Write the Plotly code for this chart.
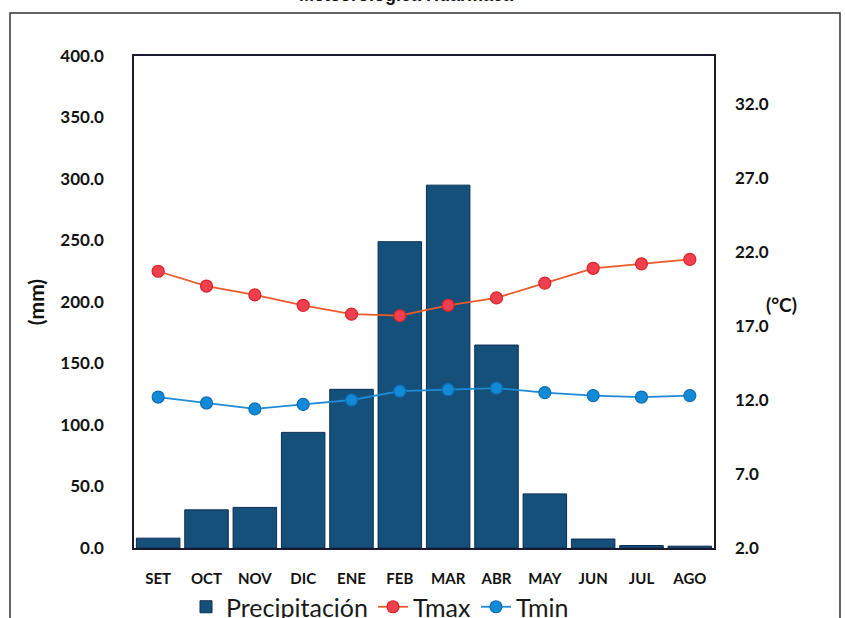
import plotly.graph_objects as go

months = ["SET", "OCT", "NOV", "DIC", "ENE", "FEB", "MAR", "ABR", "MAY", "JUN", "JUL", "AGO"]
precip = [8.0, 31.0, 33.0, 94.0, 129.0, 249.0, 295.0, 165.0, 44.0, 7.3, 2.0, 1.5]
tmax = [20.7, 19.7, 19.1, 18.4, 17.8, 17.7, 18.4, 18.9, 19.9, 20.9, 21.2, 21.5]
tmin = [12.2, 11.8, 11.4, 11.7, 12.0, 12.6, 12.7, 12.8, 12.5, 12.3, 12.2, 12.3]
left_ticks = [0, 50, 100, 150, 200, 250, 300, 350, 400]
right_ticks = [2, 7, 12, 17, 22, 27, 32]

W, H = 845, 618
# plot-area edges in window pixels
L, R, T, B = 134, 714, 56, 548

font_fam = "Lato, 'Open Sans', sans-serif"

fig = go.Figure()
fig.add_trace(go.Bar(
    x=months, y=precip, name="Precipitación",
    marker=dict(color="#15507a", line=dict(color="#0c2d52", width=1)),
    yaxis="y",
))
fig.add_trace(go.Scatter(
    x=months, y=tmax, name="Tmax", mode="lines+markers",
    line=dict(color="#ee5a2a", width=1.8),
    marker=dict(color="#f0404f", size=12, line=dict(color="#d8242a", width=1.2)),
    yaxis="y2",
))
fig.add_trace(go.Scatter(
    x=months, y=tmin, name="Tmin", mode="lines+markers",
    line=dict(color="#1f8ad6", width=1.8),
    marker=dict(color="#138ad8", size=12, line=dict(color="#0e6fb8", width=1.2)),
    yaxis="y2",
))

def px_x(p):
    return (p - L) / (R - L)

def px_y(p):
    return (B - p) / (B - T)

fig.update_layout(
    width=W, height=H,
    margin=dict(l=L, r=W - R, t=T, b=H - B, autoexpand=False),
    paper_bgcolor="white", plot_bgcolor="white",
    bargap=0.1,
    showlegend=True,
    legend=dict(orientation="h", xref="container", yref="container",
                x=380 / W, xanchor="center", y=1 - 607 / H, yanchor="middle",
                font=dict(family=font_fam, size=25, color="#1a1a1a"),
                itemwidth=30, bgcolor="rgba(0,0,0,0)"),
    xaxis=dict(
        range=[-0.5, len(months) - 0.5],
        showgrid=False, showline=True, linecolor="#1a1a2e", linewidth=1.5, mirror=True,
        ticks="", tickfont=dict(family=font_fam, size=15, color="#111", weight="bold"),
        ticklabelstandoff=16,
    ),
    yaxis=dict(
        range=[0, 400], tickvals=left_ticks, tickformat=".1f",
        showgrid=False, showline=True, linecolor="#1a1a2e", linewidth=1.5, mirror=True,
        ticks="", tickfont=dict(family=font_fam, size=17, color="#111", weight="bold"),
        ticklabelstandoff=25, zeroline=False,
        title=dict(text="<b>(mm)</b>", font=dict(family=font_fam, size=21, color="#111"), standoff=10),
    ),
    yaxis2=dict(
        range=[2, 2 + (B - T) / 14.8], tickvals=right_ticks, tickformat=".1f",
        overlaying="y", side="right", showgrid=False, showline=False,
        ticks="", tickfont=dict(family=font_fam, size=17, color="#111", weight="bold"),
        ticklabelstandoff=20, zeroline=False,
    ),
    annotations=[
        dict(text="<b>(°C)</b>", x=px_x(799), y=px_y(304), xref="paper", yref="paper",
             showarrow=False, font=dict(family=font_fam, size=19, color="#111")),
        dict(text="<b>Meteorológica Huarmaca</b>", x=px_x(406), y=px_y(-4.8), xref="paper", yref="paper",
             xanchor="center", yanchor="middle", showarrow=False,
             font=dict(family="Liberation Sans, Arial, sans-serif", size=18, color="#111")),
    ],
    shapes=[
        dict(type="rect", xref="paper", yref="paper",
             x0=px_x(10), x1=px_x(840), y0=px_y(640), y1=px_y(13),
             line=dict(color="#333", width=1.5), fillcolor="rgba(0,0,0,0)", layer="below"),
    ],
)

fig.write_html("out.html", config={"displayModeBar": False},
               post_script="document.body.style.margin='0';document.body.style.overflow='hidden';")
